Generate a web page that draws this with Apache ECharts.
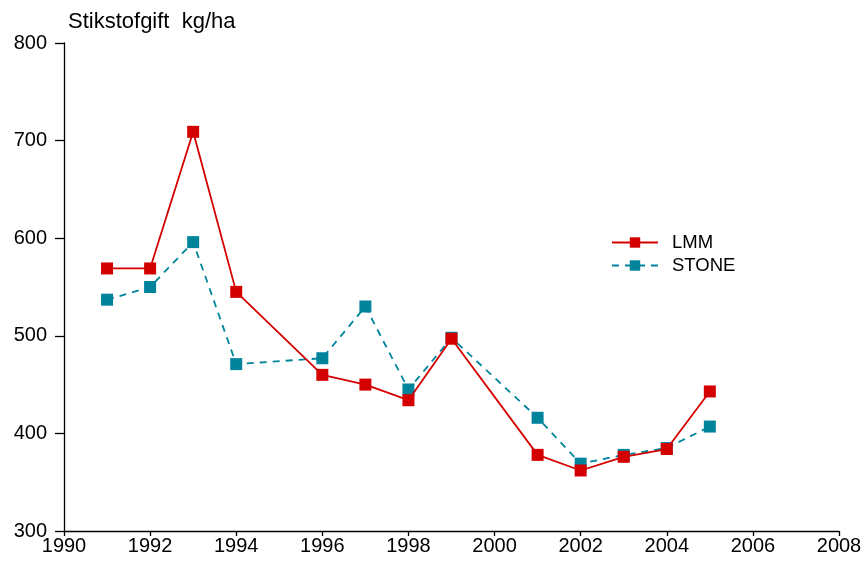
<!DOCTYPE html>
<html><head><meta charset="utf-8">
<script src="https://cdn.jsdelivr.net/npm/echarts@6/dist/echarts.min.js"></script>
<style>html,body{margin:0;padding:0;background:#fff}#c{width:865px;height:562px}</style>
</head><body><div id="c"></div>
<script>
const years = [1991,1992,1993,1994,1996,1997,1998,1999,2001,2002,2003,2004,2005];
const lmm   = [569,569,709,545,460,450,434,497,378,362,376,384,443];
const stone = [537,550,596,471,477,530,445,498,416,369,378,385,407];
const yTitle = 'Stikstofgift  kg/ha';

const chart = echarts.init(document.getElementById('c'));
const font = 'Liberation Sans, Arial, sans-serif';
chart.setOption({
  animation:false,
  backgroundColor:'#fff',
  grid:{left:64,right:26,top:43,bottom:31},
  title:{text:yTitle,left:63,top:6,textStyle:{fontFamily:font,fontSize:22,fontWeight:'normal',color:'#000'}},
  legend:{
    left:606, top:228, orient:'vertical', itemGap:4, itemWidth:46, itemHeight:13,
    textStyle:{fontFamily:font,fontSize:18.5,color:'#000',padding:[0,0,0,9]},
    data:['LMM','STONE']
  },
  xAxis:{type:'value',min:1990,max:2008,interval:2,
    axisLine:{lineStyle:{color:'#000',width:1.3}},
    axisTick:{show:true,inside:false,length:5,lineStyle:{color:'#000',width:1.3}},
    axisLabel:{fontFamily:font,fontSize:20,color:'#000',margin:5,formatter:v=>String(v)},
    splitLine:{show:false}},
  yAxis:{type:'value',min:300,max:800,interval:100,
    axisLine:{show:true,lineStyle:{color:'#000',width:1.3}},
    axisTick:{show:true,inside:false,length:9,lineStyle:{color:'#000',width:1.3}},
    axisLabel:{fontFamily:font,fontSize:20,color:'#000',margin:17,formatter:v=>String(v)},
    splitLine:{show:false}},
  series:[
    {name:'LMM',type:'line',data:years.map((y,i)=>[y,lmm[i]]),
     symbol:'rect',symbolSize:12,color:'#d40000',
     lineStyle:{color:'#d40000',width:1.8},itemStyle:{color:'#d40000'},z:3},
    {name:'STONE',type:'line',data:years.map((y,i)=>[y,stone[i]]),
     symbol:'rect',symbolSize:12,color:'#00849c',
     lineStyle:{color:'#00849c',width:1.8,type:[7,6]},itemStyle:{color:'#00849c'},z:2}
  ]
});
</script></body></html>
